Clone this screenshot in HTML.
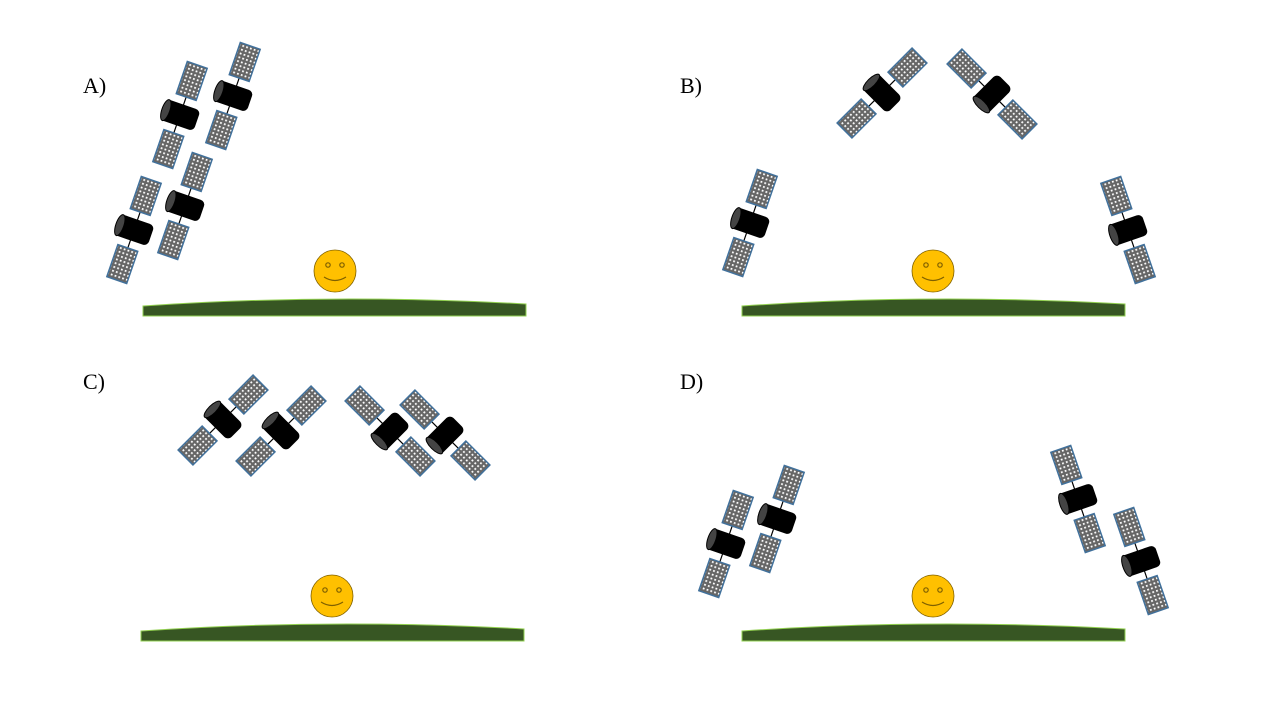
<!DOCTYPE html>
<html><head><meta charset="utf-8"><style>
html,body{margin:0;padding:0;background:#fff;width:1280px;height:720px;overflow:hidden}
svg{display:block}
text{font-family:"Liberation Serif",serif;font-size:22px;fill:#000}
</style></head><body>
<svg width="1280" height="720" viewBox="0 0 1280 720">
<defs>
<pattern id="grid" width="4" height="4" patternUnits="userSpaceOnUse">
<rect width="4" height="4" fill="#666"/><rect x="0.5" y="0.5" width="1.8" height="1.8" fill="#fff"/>
</pattern>
<g id="sat">
<line x1="0" y1="-36" x2="0" y2="36" stroke="#000" stroke-width="1.2"/>
<rect x="-10.5" y="-53" width="21" height="34" fill="url(#grid)" stroke="#41719C" stroke-width="1.5"/>
<rect x="-10.5" y="19" width="21" height="34" fill="url(#grid)" stroke="#41719C" stroke-width="1.5"/>
<rect x="-18" y="-11" width="36" height="22" rx="5" fill="#000"/>
<ellipse cx="-15" cy="0" rx="4" ry="11" fill="#444" stroke="#000" stroke-width="1"/>
</g>
<g id="smile">
<circle r="21" fill="#FFC000" stroke="#7F6000" stroke-width="0.8"/>
<circle cx="-7" cy="-6" r="2.2" fill="none" stroke="#7F6000" stroke-width="1.2"/>
<circle cx="7" cy="-6" r="2.2" fill="none" stroke="#7F6000" stroke-width="1.2"/>
<path d="M-11 6 Q0 13 11 6" fill="none" stroke="#7F6000" stroke-width="1.2"/>
</g>
<path id="ground" d="M0 19 L0 9 Q190 -4 383 7 L383 19 Z" fill="#375623" stroke="#92D050" stroke-width="1"/>
</defs>

<g>
<text x="83" y="93">A)</text>
<use href="#sat" transform="translate(180,115) rotate(19)"/>
<use href="#sat" transform="translate(233,96) rotate(19)"/>
<use href="#sat" transform="translate(134,230) rotate(19)"/>
<use href="#sat" transform="translate(185,206) rotate(19)"/>
<use href="#smile" transform="translate(335,271)"/>
<use href="#ground" transform="translate(143,297)"/>
</g>

<g>
<text x="680" y="93">B)</text>
<use href="#sat" transform="translate(882,93) rotate(45)"/>
<use href="#sat" transform="translate(992,94) rotate(-45)"/>
<use href="#sat" transform="translate(750,223) rotate(19)"/>
<use href="#sat" transform="translate(1128,230) rotate(-19)"/>
<use href="#smile" transform="translate(933,271)"/>
<use href="#ground" transform="translate(742,297)"/>
</g>

<g>
<text x="83" y="389">C)</text>
<use href="#sat" transform="translate(223,420) rotate(45)"/>
<use href="#sat" transform="translate(281,431) rotate(45)"/>
<use href="#sat" transform="translate(390,431) rotate(-45)"/>
<use href="#sat" transform="translate(445,435) rotate(-45)"/>
<use href="#smile" transform="translate(332,596)"/>
<use href="#ground" transform="translate(141,622)"/>
</g>

<g>
<text x="680" y="389">D)</text>
<use href="#sat" transform="translate(726,544) rotate(19)"/>
<use href="#sat" transform="translate(777,519) rotate(19)"/>
<use href="#sat" transform="translate(1078,499) rotate(-19)"/>
<use href="#sat" transform="translate(1141,561) rotate(-19)"/>
<use href="#smile" transform="translate(933,596)"/>
<use href="#ground" transform="translate(742,622)"/>
</g>
</svg>
</body></html>
